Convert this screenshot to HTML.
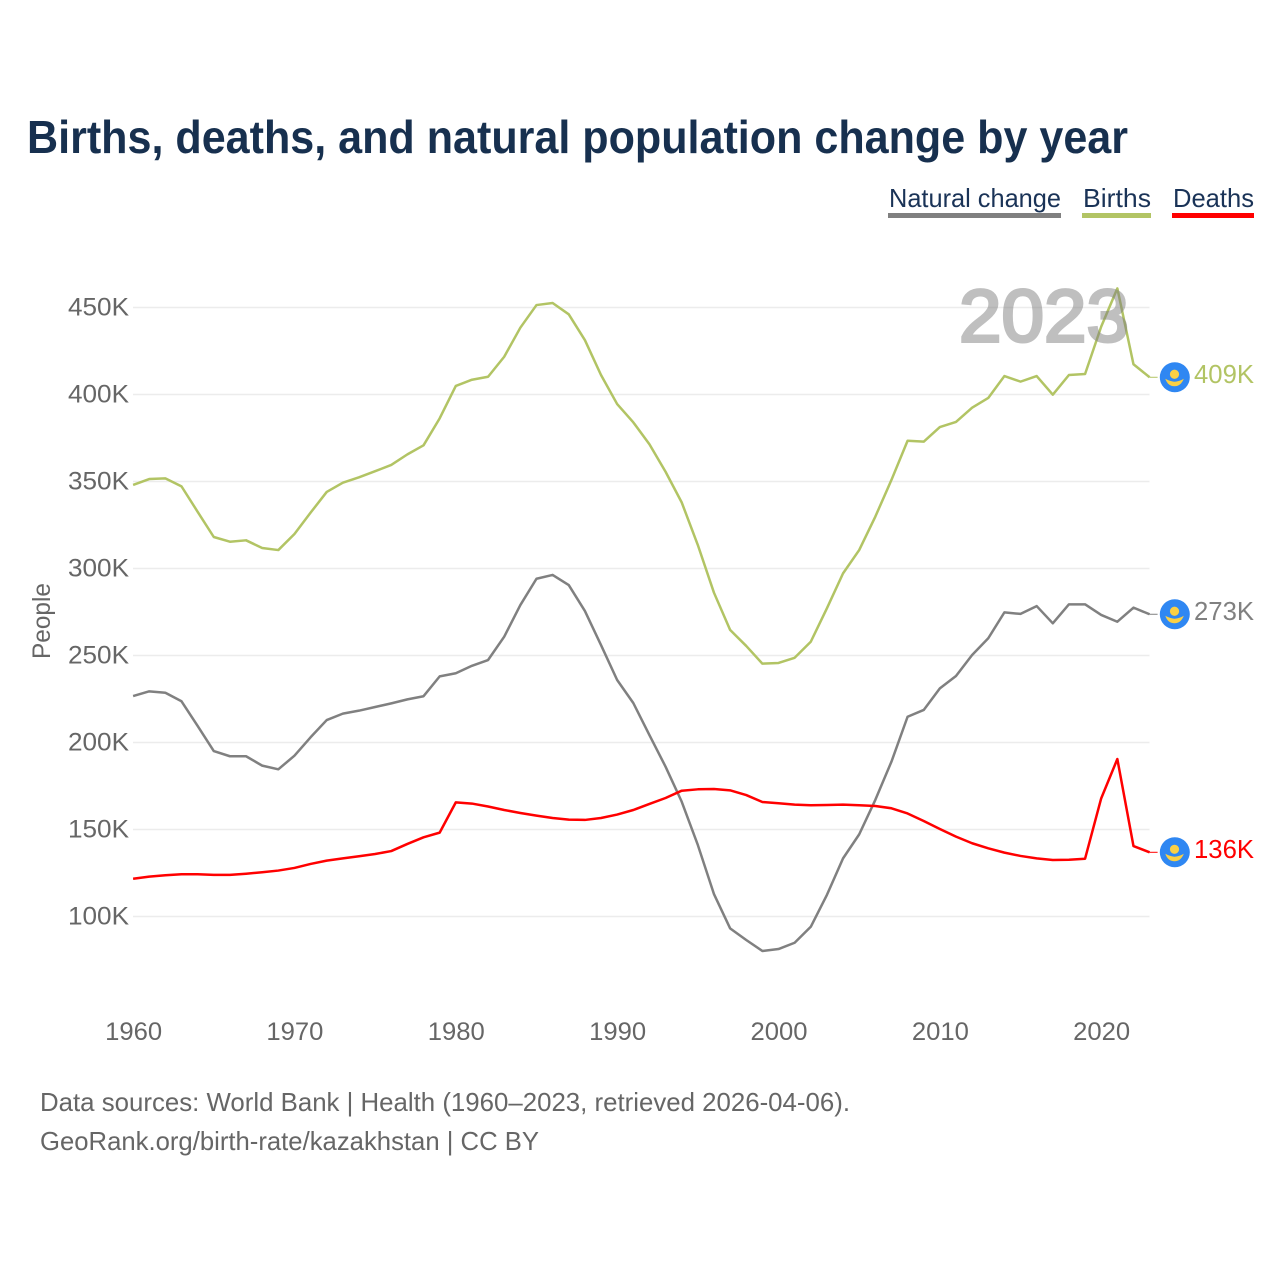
<!DOCTYPE html>
<html lang="en">
<head>
<meta charset="utf-8">
<title>Births, deaths, and natural population change by year</title>
<style>
html,body{margin:0;padding:0;background:#fff;}
svg{display:block;font-family:"Liberation Sans",sans-serif;}
</style>
</head>
<body>
<svg id="chart" xmlns="http://www.w3.org/2000/svg" width="1280" height="1280" viewBox="0 0 1280 1280">
  <rect x="0" y="0" width="1280" height="1280" fill="#ffffff"/>
  <text x="27" y="153" font-size="46" font-weight="700" fill="#17304f" textLength="1101" lengthAdjust="spacingAndGlyphs">Births, deaths, and natural population change by year</text>

  <g font-size="26" fill="#1a3357">
    <g>
      <text x="889" y="207" textLength="172" lengthAdjust="spacingAndGlyphs">Natural change</text>
      <rect x="888" y="213" width="173" height="5" fill="#808080"/>
    </g>
    <g>
      <text x="1083" y="207" textLength="68" lengthAdjust="spacingAndGlyphs">Births</text>
      <rect x="1082" y="213" width="69" height="5" fill="#b2c464"/>
    </g>
    <g>
      <text x="1173" y="207" textLength="81" lengthAdjust="spacingAndGlyphs">Deaths</text>
      <rect x="1172" y="213" width="82" height="5" fill="#ff0000"/>
    </g>
  </g>

  <g id="grid"></g>
  <g id="yticks"></g>
  <g id="xticks"></g>
  <text transform="translate(50,659) rotate(-90)" x="0" y="0" font-size="25" fill="#666666" textLength="76" lengthAdjust="spacingAndGlyphs">People</text>
  <g id="series"></g>
  <text x="959" y="341.5" font-size="74" fill="#808080" stroke="#808080" stroke-width="3" opacity="0.5" textLength="170" lengthAdjust="spacingAndGlyphs">2023</text>
  <g id="endmarks"></g>

  <text x="40" y="1111" font-size="26" fill="#666666" textLength="810" lengthAdjust="spacingAndGlyphs">Data sources: World Bank | Health (1960–2023, retrieved 2026-04-06).</text>
  <text x="40" y="1150" font-size="26" fill="#666666" textLength="499" lengthAdjust="spacingAndGlyphs">GeoRank.org/birth-rate/kazakhstan | CC BY</text>
</svg>
<script>
var firstYear = 1960;
var birthsValues = [348.0,351.4,351.8,347.2,332.6,318.1,315.4,316.2,311.8,310.6,319.8,332.1,344.0,349.3,352.4,355.9,359.5,365.6,370.8,386.3,404.9,408.5,410.2,421.7,438.4,451.4,452.6,446.1,431.3,411.2,394.5,384.0,371.4,355.6,338.0,313.5,286.1,264.7,255.5,245.3,245.7,248.7,257.9,277.1,297.2,310.6,329.8,350.9,373.4,372.9,381.3,384.2,392.4,398.0,410.6,407.4,410.6,399.9,411.2,411.8,439.0,461.0,417.4,409.9];
var naturalChangeValues = [226.7,229.4,228.6,223.7,209.5,195.1,192.1,192.1,186.7,184.6,192.4,203.0,212.9,216.6,218.3,220.4,222.5,224.8,226.6,238.0,239.8,244.1,247.4,260.8,279.0,294.1,296.3,290.5,275.6,256.0,235.9,222.7,204.3,186.1,166.0,141.1,112.9,93.2,86.5,80.2,81.3,84.9,94.1,112.4,133.4,147.2,167.0,189.0,214.8,218.7,231.1,238.2,250.3,259.9,274.8,273.9,278.4,268.5,279.4,279.4,273.3,269.4,277.5,273.7];
var deathsValues = [121.7,122.9,123.7,124.3,124.3,123.9,123.9,124.6,125.4,126.4,127.9,130.2,132.1,133.4,134.6,135.9,137.6,141.7,145.5,148.2,165.6,164.9,163.2,161.2,159.5,158.0,156.6,155.7,155.5,156.6,158.6,161.2,164.7,168.1,172.3,173.1,173.3,172.5,169.8,165.8,165.1,164.3,163.9,164.1,164.3,163.9,163.5,162.2,159.2,154.9,150.3,145.9,142.1,139.2,136.7,134.8,133.4,132.5,132.6,133.2,167.9,190.5,140.5,136.9];
var yTickValues = [100,150,200,250,300,350,400,450];
var yTickLabels = ['100K','150K','200K','250K','300K','350K','400K','450K'];
var xTickYears = [1960,1970,1980,1990,2000,2010,2020];
var endLabels = ['409K','273K','136K'];

var NS = 'http://www.w3.org/2000/svg';
function xScale(year){ return 133.1 + (year - 1960) * 16.135; }
function yScale(v){ return 916.5 - (v - 100) * 1.74; }
function make(tag, parent, attrs){
  var el = document.createElementNS(NS, tag);
  for (var k in attrs) el.setAttribute(k, attrs[k]);
  parent.appendChild(el);
  return el;
}
var gridG = document.getElementById('grid');
var yTickG = document.getElementById('yticks');
var xTickG = document.getElementById('xticks');
var seriesG = document.getElementById('series');
var endG = document.getElementById('endmarks');

yTickValues.forEach(function(v, i){
  var line = make('line', gridG, {x1:133, x2:1149.5, y1:yScale(v), y2:yScale(v), stroke:'#ececec', 'stroke-width':1.5});
  
  
  var t = make('text', yTickG, {x:129, y:yScale(v) + 8, 'text-anchor':'end', 'font-size':25, fill:'#666666', textLength:61, lengthAdjust:'spacingAndGlyphs'});
  t.textContent = yTickLabels[i];
  
  
});

xTickYears.forEach(function(year){
  var t = make('text', xTickG, {x:xScale(year) + 0.5, y:1040, 'text-anchor':'middle', 'font-size':25, fill:'#666666', textLength:57, lengthAdjust:'spacingAndGlyphs'});
  t.textContent = String(year);
  
  
});

function pathFor(values){
  return values.map(function(v, i){
    return (i ? 'L' : 'M') + xScale(firstYear + i).toFixed(2) + ' ' + yScale(v).toFixed(2);
  }).join(' ');
}
function endpoint(values, color, label, parent){
  var last = values[values.length - 1];
  var x = xScale(firstYear + values.length - 1);
  var y = yScale(last);
  var link = make('line', parent, {x1:x, x2:x + 8, y1:y, y2:y, stroke:color, 'stroke-width':1});
  
  
  var g = make('g', parent, {transform:'translate(' + (x + 25.2) + ',' + y + ')'});
  
  
  var disc = make('circle', g, {cx:0, cy:0, r:15, fill:'#2f87f2'});
  
  
  var sun = make('circle', g, {cx:-0.3, cy:-3, r:4.6, fill:'#fbd044'});
  
  
  var arc = make('path', g, {d:'M-9.5 1.5 Q-5 4 -0.3 4.5 Q5 4 9 1.5 Q6 9 -0.3 9 Q-7 9 -9.5 1.5 Z', fill:'#fbd044'});
  
  
  var t = make('text', parent, {x:1254, y:y + 5.5, 'text-anchor':'end', 'font-size':26, fill:color, textLength:60, lengthAdjust:'spacingAndGlyphs'});
  t.textContent = label;
  
  
}

var birthsLine = make('path', seriesG, {d:pathFor(birthsValues), fill:'none', stroke:'#b2c464', 'stroke-width':2.5, 'stroke-linejoin':'round'});


var naturalLine = make('path', seriesG, {d:pathFor(naturalChangeValues), fill:'none', stroke:'#808080', 'stroke-width':2.5, 'stroke-linejoin':'round'});


var deathsLine = make('path', seriesG, {d:pathFor(deathsValues), fill:'none', stroke:'#ff0000', 'stroke-width':2.5, 'stroke-linejoin':'round'});



endpoint(birthsValues, '#b2c464', endLabels[0], endG);
endpoint(naturalChangeValues, '#808080', endLabels[1], endG);
endpoint(deathsValues, '#ff0000', endLabels[2], endG);
</script>
</body>
</html>
